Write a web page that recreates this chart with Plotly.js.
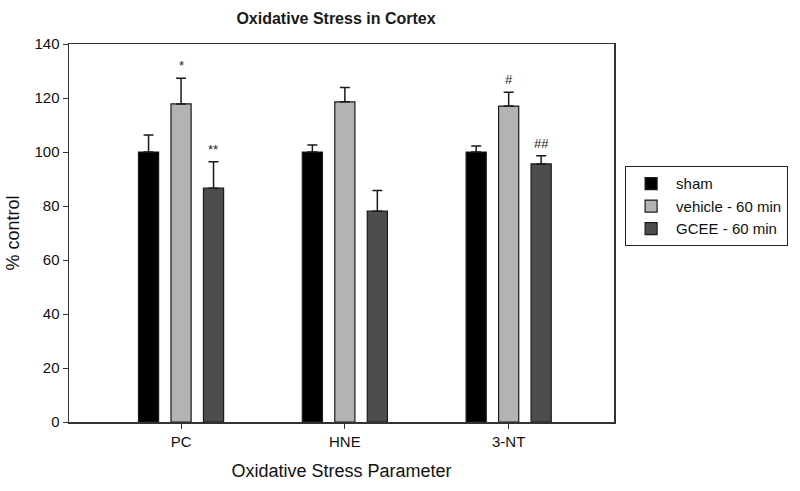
<!DOCTYPE html>
<html>
<head>
<meta charset="utf-8">
<script src="https://cdn.plot.ly/plotly-3.0.1.min.js"></script>
<style>html,body{margin:0;padding:0;background:#fff}#chart{width:800px;height:491px}</style>
</head>
<body>
<div id="chart"></div>
<script>
const categories = ["PC", "HNE", "3-NT"];
const seriesNames = ["sham", "vehicle - 60 min", "GCEE - 60 min"];
const shamValues = [100, 100, 100];
const shamErrors = [6.3, 2.6, 2.2];
const vehicleValues = [117.8, 118.6, 117];
const vehicleErrors = [9.5, 5.3, 5.1];
const gceeValues = [86.6, 78.1, 95.6];
const gceeErrors = [9.8, 7.6, 3.0];
const seriesColors = ["#000000", "#b3b3b3", "#4d4d4d"];
const markLabels = [
  {series: 1, cat: 0, text: "*"},
  {series: 2, cat: 0, text: "**"},
  {series: 1, cat: 2, text: "#"},
  {series: 2, cat: 2, text: "##"}
];

const values = [shamValues, vehicleValues, gceeValues];
const errors = [shamErrors, vehicleErrors, gceeErrors];
const sans = "Liberation Sans, Arial, sans-serif";

const traces = values.map((v, i) => ({
  type: "bar",
  name: seriesNames[i],
  x: categories,
  y: v,
  marker: {color: seriesColors[i], line: {color: "#1a1a1a", width: 1.2}},
  error_y: {type: "data", array: errors[i], symmetric: false, arrayminus: categories.map(() => 0),
            color: "#1a1a1a", thickness: 1.5, width: 5}
}));

const slot = 0.198;
const annotations = markLabels.map(m => ({
  x: m.cat + (m.series - 1) * slot,
  y: values[m.series][m.cat] + errors[m.series][m.cat],
  xref: "x", yref: "y",
  text: m.text,
  showarrow: false,
  yanchor: "bottom",
  yshift: 3,
  font: {family: sans, size: 13, color: "#222"}
}));

const layout = {
  width: 800, height: 491,
  margin: {l: 69, r: 186, t: 44, b: 69},
  paper_bgcolor: "#fff", plot_bgcolor: "#fff",
  barmode: "group",
  bargap: 0.405,
  bargroupgap: 0.38,
  title: {text: "Oxidative Stress in Cortex", x: 0.42, xanchor: "center", y: 0.963, yanchor: "middle",
          font: {family: sans, size: 16, color: "#1a1a1a", weight: "bold"}},
  xaxis: {
    type: "category",
    range: [-0.684, 2.643],
    showline: true, linecolor: "#333", linewidth: 1.5, mirror: true,
    ticks: "outside", ticklen: 5, tickcolor: "#333", tickwidth: 1,
    showgrid: false, zeroline: false,
    tickfont: {family: sans, size: 15, color: "#111"},
    title: {text: "Oxidative Stress Parameter", standoff: 16, font: {family: sans, size: 18, color: "#111"}}
  },
  yaxis: {
    range: [0, 140],
    tickvals: [0, 20, 40, 60, 80, 100, 120, 140],
    showline: true, linecolor: "#333", linewidth: 1.5, mirror: true,
    ticks: "outside", ticklen: 5, tickcolor: "#333", tickwidth: 1,
    showgrid: false, zeroline: false,
    tickfont: {family: sans, size: 15, color: "#111"},
    title: {text: "% control", standoff: 10, font: {family: sans, size: 18, color: "#111"}}
  },
  showlegend: true,
  legend: {
    x: 1.02, xanchor: "left", y: 0.677, yanchor: "top",
    bordercolor: "#222", borderwidth: 1.2, bgcolor: "#fff",
    font: {family: sans, size: 15, color: "#111"},
    tracegroupgap: 0, itemwidth: 40
  },
  annotations: annotations
};

Plotly.newPlot("chart", traces, layout, {displayModeBar: false, staticPlot: true});
</script>
</body>
</html>
